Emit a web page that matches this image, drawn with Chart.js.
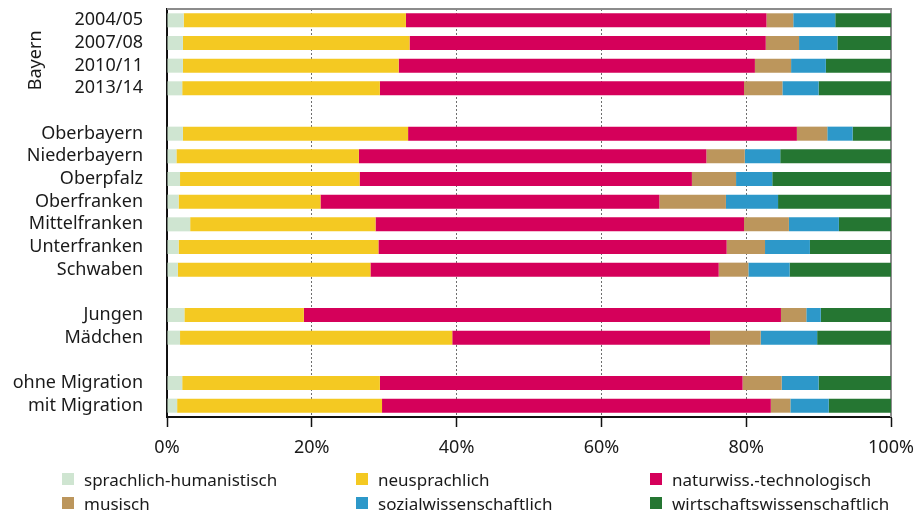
<!DOCTYPE html>
<html>
<head>
<meta charset="utf-8">
<script src="https://cdn.jsdelivr.net/npm/chart.js@4.4.1/dist/chart.umd.min.js"></script>
<style>
    html, body { margin: 0; padding: 0; background: #fff; }
    #wrap { position: relative; width: 916px; height: 512px; }
    #chart { position: absolute; left: 0; top: 0; }
    #legend { position: absolute; left: 0; top: 0; width: 916px; height: 512px; pointer-events: none;
        font-family: "Noto Sans", sans-serif; font-size: 17px; color: #1a1a1a; }
    .item { position: absolute; display: flex; align-items: center; white-space: nowrap; }
    .box { width: 12px; height: 12px; margin-right: 10px; }
</style>
</head>
<body>
<div id="wrap">
    <canvas id="chart" width="916" height="512"></canvas>
    <div id="legend"></div>
</div>
<script>
// Kategorien (leere Einträge = Abstand zwischen den Gruppen)
const categories = ['2004/05', '2007/08', '2010/11', '2013/14', '',
    'Oberbayern', 'Niederbayern', 'Oberpfalz', 'Oberfranken', 'Mittelfranken', 'Unterfranken', 'Schwaben', '',
    'Jungen', 'Mädchen', '',
    'ohne Migration', 'mit Migration'];

const seriesNames = ['sprachlich-humanistisch', 'neusprachlich', 'naturwiss.-technologisch',
    'musisch', 'sozialwissenschaftlich', 'wirtschaftswissenschaftlich'];

const seriesColors = ['#cfe5d1', '#f4c922', '#d5005a', '#bc965c', '#2d98c9', '#257632'];

// Anteile in %
const sprachlich = [2.3, 2.2, 2.2, 2.1, null, 2.2, 1.3, 1.8, 1.6, 3.2, 1.6, 1.5, null, 2.4, 1.8, null, 2.1, 1.4];
const neusprachlich = [30.7, 31.3, 29.8, 27.3, null, 31.1, 25.2, 24.8, 19.6, 25.6, 27.6, 26.6, null, 16.5, 37.6, null, 27.3, 28.3];
const naturwiss = [49.8, 49.2, 49.2, 50.3, null, 53.7, 48.0, 45.9, 46.8, 50.9, 48.1, 48.1, null, 65.9, 35.6, null, 50.1, 53.7];
const musisch = [3.7, 4.6, 5.0, 5.3, null, 4.2, 5.3, 6.1, 9.2, 6.2, 5.3, 4.1, null, 3.5, 7.0, null, 5.4, 2.7];
const sozialwiss = [5.8, 5.3, 4.8, 5.0, null, 3.5, 4.9, 5.0, 7.2, 6.9, 6.2, 5.7, null, 2.0, 7.8, null, 5.1, 5.3];
const wirtschaft = [7.7, 7.4, 9.0, 10.0, null, 5.3, 15.3, 16.4, 15.6, 7.2, 11.2, 14.0, null, 9.7, 10.2, null, 10.0, 8.6];

const xTicks = [0, 20, 40, 60, 80, 100];

const seriesValues = [sprachlich, neusprachlich, naturwiss, musisch, sozialwiss, wirtschaft];
const fontFamily = '"Noto Sans", sans-serif';
const textColor = '#1a1a1a';

// Rahmen oben/rechts und Gruppenbeschriftung "Bayern"
const extrasPlugin = {
    id: 'extras',
    beforeDatasetsDraw(chart) {
        const { ctx, chartArea } = chart;
        ctx.save();
        ctx.strokeStyle = '#8c8c8c';
        ctx.lineWidth = 2;
        ctx.beginPath();
        ctx.moveTo(chartArea.left, chartArea.top);
        ctx.lineTo(chartArea.right, chartArea.top);
        ctx.lineTo(chartArea.right, chartArea.bottom);
        ctx.stroke();
        ctx.restore();
    },
    afterDraw(chart) {
        const { ctx } = chart;
        const y = chart.scales.y;
        const mid = (y.getPixelForValue(0) + y.getPixelForValue(3)) / 2 + 6;
        ctx.save();
        ctx.translate(36, mid);
        ctx.rotate(-Math.PI / 2);
        ctx.fillStyle = textColor;
        ctx.font = '18px ' + fontFamily;
        ctx.textAlign = 'center';
        ctx.textBaseline = 'middle';
        ctx.fillText('Bayern', 0, 0);
        ctx.restore();
    }
};

new Chart(document.getElementById('chart'), {
    type: 'bar',
    data: {
        labels: categories,
        datasets: seriesNames.map((name, i) => ({
            label: name,
            data: seriesValues[i],
            backgroundColor: seriesColors[i],
            borderWidth: 0,
            barPercentage: 0.62,
            categoryPercentage: 1,
        }))
    },
    options: {
        indexAxis: 'y',
        responsive: false,
        animation: false,
        layout: { padding: { top: 9, right: 25, bottom: 50, left: 0 } },
        plugins: {
            legend: { display: false },
            tooltip: { enabled: false }
        },
        scales: {
            x: {
                stacked: true,
                min: 0,
                max: 100,
                afterBuildTicks: (scale) => { scale.ticks = xTicks.map(v => ({ value: v })); },
                afterFit: (scale) => {
                    scale.height = 45;
                    scale.paddingLeft = 0;
                    scale.paddingRight = 0;
                },
                ticks: {
                    callback: (v) => v + '%',
                    color: textColor,
                    font: { family: fontFamily, size: 18 },
                    padding: 10,
                    maxRotation: 0,
                },
                grid: {
                    color: (c) => (c.tick && (c.tick.value === 0 || c.tick.value === 100)) ? 'rgba(0,0,0,0)' : '#6e6e6e',
                    lineWidth: 1,
                    drawTicks: true,
                    tickLength: 10,
                    tickColor: '#111',
                    tickWidth: 1.5,
                },
                border: { color: '#111', width: 2, dash: [2, 2] }
            },
            y: {
                stacked: true,
                afterFit: (scale) => {
                    scale.width = 167;
                    scale.paddingTop = 0;
                    scale.paddingBottom = 0;
                },
                ticks: {
                    color: textColor,
                    font: { family: fontFamily, size: 18 },
                    padding: 24,
                    autoSkip: false,
                },
                grid: { display: false, drawTicks: false },
                border: { color: '#111', width: 2 }
            }
        }
    },
    plugins: [extrasPlugin]
});

// Legende: 3 Spalten, 2 Zeilen
const legendEl = document.getElementById('legend');
const colX = [62, 356, 650];
const rowY = [479, 503];
seriesNames.forEach((name, i) => {
    const item = document.createElement('div');
    item.className = 'item';
    item.style.left = colX[i % 3] + 'px';
    item.style.top = (rowY[Math.floor(i / 3)] - 11) + 'px';
    item.style.height = '22px';
    item.innerHTML = `<span class="box" style="background:${seriesColors[i]}"></span><span>${name}</span>`;
    legendEl.appendChild(item);
});
</script>
</body>
</html>
